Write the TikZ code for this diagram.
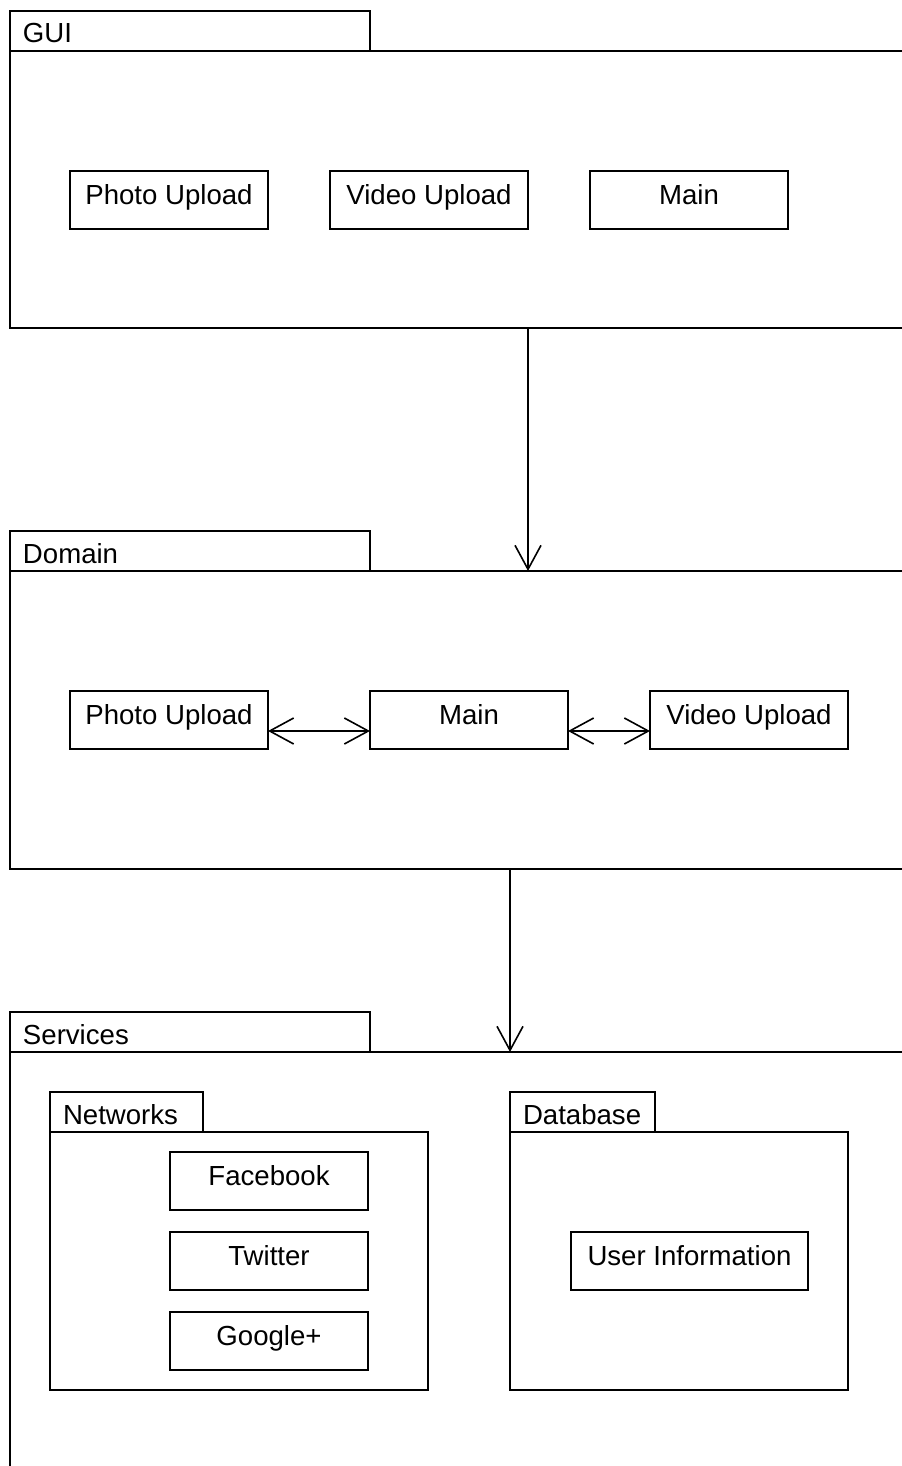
\documentclass[tikz,border=0pt]{standalone}
\usepackage{fontspec}
\setmainfont{Liberation Sans}
\usetikzlibrary{arrows.meta}

\begin{document}
\begin{tikzpicture}[x=0.5pt,y=-0.5pt,line width=0.8pt,
  font=\fontsize{13.8}{16}\selectfont,
  >={Straight Barb[length=12pt,width=13pt]},
  pkg/.style={draw,anchor=north west,inner sep=0pt,outer sep=0pt,minimum width=455pt},
  tab/.style={draw,anchor=south west,inner xsep=6.5pt,inner ysep=0pt,outer sep=0pt,minimum height=20pt,text height=12pt,text depth=0pt,align=left},
  cls/.style={draw,anchor=north west,inner sep=0pt,outer sep=0pt,minimum width=99pt,minimum height=29pt,text height=9.5pt,text depth=5pt}]
\useasboundingbox (0,0) rectangle (901,1466);
% GUI
\node[pkg,minimum height=138.5pt] (gui) at (10,51) {};
\node[tab,text width=167pt] (guitab) at (gui.north west) {GUI};
\node[cls] (gphoto) at (70,171) {Photo Upload};
\node[cls] (gvideo) at (330,171) {Video Upload};
\node[cls] (gmain) at (590,171) {Main};
% Domain
\node[pkg,minimum height=149pt] (domain) at (10,571) {};
\node[tab,text width=167pt] (domaintab) at (domain.north west) {Domain};
\node[cls] (dphoto) at (70,691) {Photo Upload};
\node[cls] (dmain) at (370,691) {Main};
\node[cls] (dvideo) at (650,691) {Video Upload};
% Services
\node[pkg,minimum height=214pt] (services) at (10,1052) {};
\node[tab,text width=167pt] (servicestab) at (services.north west) {Services};
\node[pkg,minimum width=189pt,minimum height=129pt] (networks) at (50,1132) {};
\node[tab,text width=63.5pt] (networkstab) at (networks.north west) {Networks};
\node[cls] (facebook) at (170,1152) {Facebook};
\node[cls] (twitter) at (170,1232) {Twitter};
\node[cls] (google) at (170,1312) {Google+};
\node[pkg,minimum width=169pt,minimum height=129pt] (db) at (510,1132) {};
\node[tab,text width=59.5pt] (dbtab) at (db.north west) {Database};
\node[cls,minimum width=118.5pt] (userinfo) at (571,1232) {User Information};
% dependencies
\draw[->] (gui.south -| gvideo.east) -- (domain.north -| gvideo.east);
\draw[->] (domain.south -| dbtab.west) -- (services.north -| dbtab.west);
\draw[<->] ([yshift=-5.5pt]dphoto.east) -- ([yshift=-5.5pt]dmain.west);
\draw[<->] ([yshift=-5.5pt]dmain.east) -- ([yshift=-5.5pt]dvideo.west);
\end{tikzpicture}
\end{document}
